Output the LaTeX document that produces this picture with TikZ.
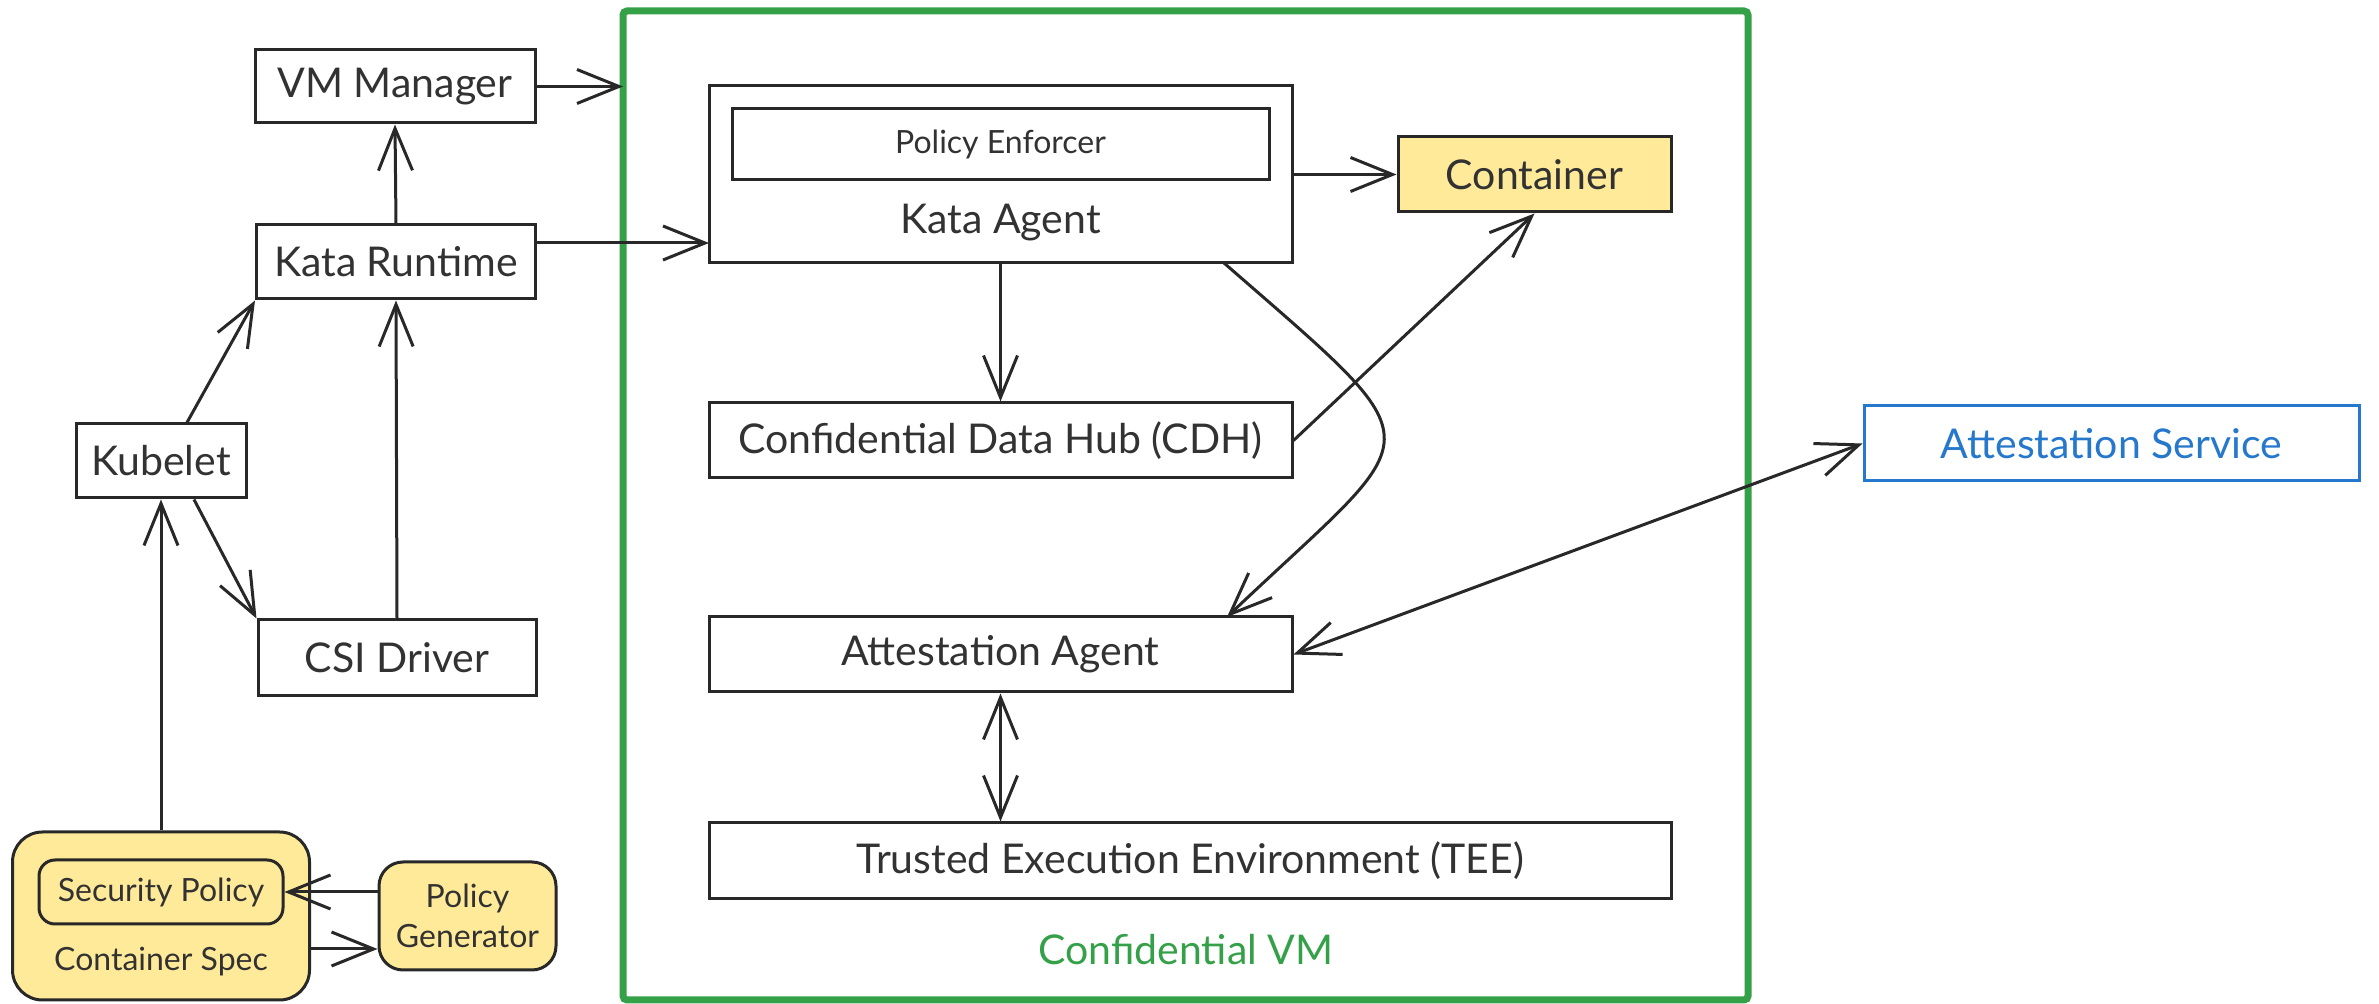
\documentclass[tikz,border=0pt]{standalone}
\usepackage{fontspec}
\setmainfont{Lato}
\usetikzlibrary{arrows.meta}
\definecolor{ink}{RGB}{40,40,40}
\definecolor{txt}{RGB}{50,50,50}
\definecolor{yel}{RGB}{255,234,153}
\definecolor{grn}{RGB}{52,160,72}
\definecolor{blu}{RGB}{38,120,204}
\newcommand{\bigtxt}{\fontsize{20.5}{24}\selectfont}
\newcommand{\smalltxt}{\fontsize{16}{19}\selectfont}
\begin{document}
\begin{tikzpicture}[x=0.5pt,y=-0.5pt,
  box/.style={draw=ink,line width=1.5pt,fill=white,inner sep=0pt,text=txt,font=\bigtxt},
  ybox/.style={box,fill=yel},
  rbox/.style={ybox,rounded corners=#1},
  lbl/.style={inner sep=0pt,text=txt,font=\bigtxt},
  arr/.style={draw=ink,line width=1.5pt,-{Straight Barb[length=21pt,width=17pt]}},
  darr/.style={draw=ink,line width=1.5pt,{Straight Barb[length=21pt,width=17pt]}-{Straight Barb[length=21pt,width=17pt]}}]
\useasboundingbox (0,0) rectangle (2379,1004);
% Confidential VM frame
\draw[grn,line width=3.5pt,rounded corners=2pt] (623,11) rectangle (1748,1000);
\node[lbl,text=grn] (cvm) at (1186,950) {Confidential VM};
% left side
\node[box,minimum width=140pt,minimum height=36.5pt] (vmm) at (395,86.5) {VM Manager};
\node[box,minimum width=139.5pt,minimum height=37pt] (kr) at (396,262) {Kata Runtime};
\node[box,minimum width=85pt,minimum height=37pt] (kub) at (161,461) {Kubelet};
\node[box,minimum width=139pt,minimum height=38pt] (csi) at (397,658) {CSI Driver};
\node[rbox=15pt,minimum width=148.5pt,minimum height=84pt] (cspec) at (161,916) {};
\node[rbox=8pt,minimum width=122pt,minimum height=32pt,font=\smalltxt] (secpol) at (161,892) {Security Policy};
\node[lbl,font=\smalltxt] (cspecl) at (161,962) {Container Spec};
\node[rbox=12pt,minimum width=88.5pt,minimum height=54pt,font=\smalltxt,align=center] (polgen) at (467.5,916) {Policy\\[1pt]Generator};
% inside VM
\node[box,minimum width=291.5pt,minimum height=88.5pt] (ka) at (1000.5,174.5) {};
\node[box,minimum width=268.5pt,minimum height=35.5pt,font=\smalltxt] (pe) at (1000.5,144.5) {Policy Enforcer};
\node[lbl] (kal) at (1000.5,223) {Kata Agent};
\node[ybox,minimum width=136.5pt,minimum height=37.5pt] (cont) at (1534.5,174.5) {Container};
\node[box,minimum width=291.5pt,minimum height=37.5pt] (cdh) at (1000.5,440.5) {Confidential Data Hub (CDH)};
\node[box,minimum width=291.5pt,minimum height=37.5pt] (aa) at (1000.5,654.5) {Attestation Agent};
\node[box,minimum width=481pt,minimum height=38pt] (tee) at (1190,861) {Trusted Execution Environment (TEE)};
\node[box,draw=blu,text=blu,minimum width=247.5pt,minimum height=37.5pt] (as) at (2111.5,443.5) {Attestation Service};
% connectors
\coordinate (vmin) at (623,86.5);
\coordinate (kain) at (709,243);
\coordinate (csout) at (309,949);
\draw[arr] (vmm.east) -- (vmin);
\draw[arr] (kr.east |- kain) -- (kain);
\draw[arr] (kr.north) -- (vmm.south);
\draw[arr] (csi.north) -- (kr.south);
\draw[arr] ([xshift=13pt]kub.north) -- (kr.south west);
\draw[arr] ([xshift=16.5pt]kub.south) -- (csi.north west);
\draw[arr] (cspec.north) -- (kub.south);
\draw[arr] (polgen.west |- secpol.east) -- (secpol.east);
\draw[arr] (csout) -- (polgen.west |- csout);
\draw[arr] (ka.east) -- (cont.west);
\draw[arr] (ka.south) -- (cdh.north);
\draw[arr] (cdh.east) -- (cont.south);
\coordinate (kaout) at (1224,263);
\coordinate (aain) at (1227,617);
\draw[arr] (kaout) .. controls (1444,455) and (1429,425) .. (aain);
\draw[darr] (aa.east) -- (as.west);
\draw[darr] (aa.south) -- (aa.south |- tee.north);
\end{tikzpicture}
\end{document}
